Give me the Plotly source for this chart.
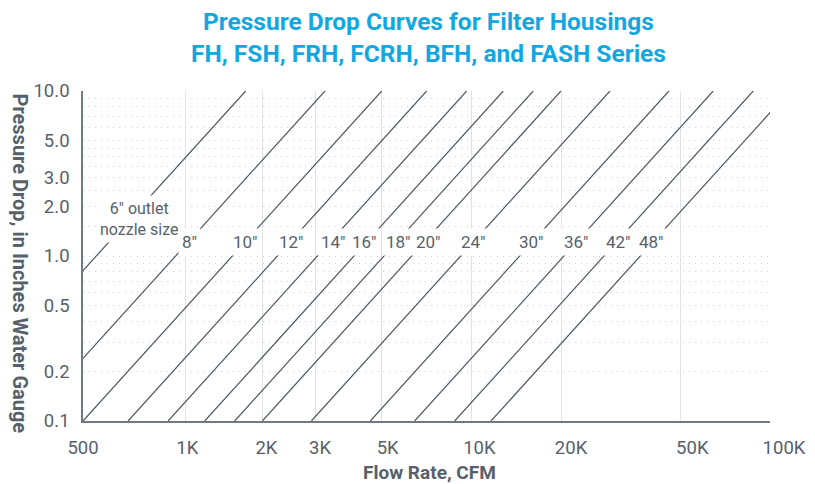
import math
import plotly.graph_objects as go

# ---- data ----
NOZZLE_SIZES = ['6"', '8"', '10"', '12"', '14"', '16"', '18"', '20"', '24"', '30"', '36"', '42"', '48"']
# flow (CFM) where each curve crosses 0.1 and 10.0 in. w.g.
FLOW_AT_0_1 = [175, 323, 500, 708, 964, 1278, 1611, 1994, 2910, 4586, 6453, 8786, 11630]
FLOW_AT_10 = [1753, 3232, 5004, 7080, 9638, 12782, 16106, 19940, 29100, 45860, 64530, 87860, 116300]
DP_LOW = 0.1
DP_HIGH = 10.0

# where the size labels sit along each curve (flow, pressure drop)
LABEL_TEXT = ['6" outlet<br>nozzle size', '8"', '10"', '12"', '14"', '16"', '18"', '20"',
              '24"', '30"', '36"', '42"', '48"']
LABEL_FLOW = [776, 1141, 1755, 2487, 3446, 4377, 5688, 7207, 10140, 15910, 22560, 31030, 40240]
LABEL_DP = [1.67, 1.21, 1.21, 1.21, 1.21, 1.21, 1.21, 1.21, 1.21, 1.21, 1.21, 1.21, 1.21]

# axes
X_GRID_VALS = [1100, 2000, 3000, 5000, 10000, 20000, 50000]
X_TICK_VALS = [500, 1100, 2000, 3000, 5000, 10000, 20000, 50000, 100000]
X_TICK_TEXT = ['500', '1K', '2K', '3K', '5K', '10K', '20K', '50K', '100K']
Y_TICK_VALS = [0.1, 0.2, 0.5, 1, 2, 3, 5, 10]
Y_TICK_TEXT = ['0.1', '0.2', '0.5', '1.0', '2.0', '3.0', '5.0', '10.0']
Y_GRID_VALS = [0.2, 0.3, 0.4, 0.5, 0.6, 0.7, 0.8, 0.9, 1, 1.5, 2, 2.5, 3, 3.5, 4, 4.5, 5, 6, 7, 8, 9]

TITLE = "Pressure Drop Curves for Filter Housings<br>FH, FSH, FRH, FCRH, BFH, and FASH Series"
X_TITLE = "Flow Rate, CFM"
Y_TITLE = "Pressure Drop, in Inches Water Gauge"

# ---- styling ----
FONT = "Roboto"
TEXT_COLOR = "#56616b"
LINE_COLOR = "#4d5863"
AXIS_COLOR = "#6f7a84"
BLUE = "#12a7e2"

W, H = 807, 476
ML, MR, MT, MB = 75, 20, 83, 63
PLOT_W = W - ML - MR
PLOT_H = H - MT - MB


def px_x(px):
    return (px - ML) / PLOT_W


def px_y(py):
    return (H - MB - py) / PLOT_H


fig = go.Figure()

for name, q0, q1 in zip(NOZZLE_SIZES, FLOW_AT_0_1, FLOW_AT_10):
    fig.add_trace(go.Scatter(
        x=[q0, q1], y=[DP_LOW, DP_HIGH], mode="lines", name=name,
        line=dict(color=LINE_COLOR, width=1.2), showlegend=False,
        hovertemplate=name + "<br>%{x:,.0f} CFM, %{y:.2f} in. w.g.<extra></extra>",
    ))

# empty trace so that the tick-label axis is drawn
fig.add_trace(go.Scatter(x=[], y=[], xaxis="x2", yaxis="y2", showlegend=False, hoverinfo="skip"))

for txt, q, dp in zip(LABEL_TEXT, LABEL_FLOW, LABEL_DP):
    fig.add_annotation(
        x=math.log10(q), y=math.log10(dp), xref="x", yref="y", text=txt,
        showarrow=False, bgcolor="white", borderpad=3,
        font=dict(family=FONT, size=16 if "<br>" in txt else 17, color=TEXT_COLOR),
        align="center",
    )

fig.add_annotation(
    x=px_x(420), y=px_y(29), xref="paper", yref="paper",
    text="<b>" + TITLE + "</b>", showarrow=False, xanchor="center", yanchor="middle",
    font=dict(family=FONT, size=24.5, color=BLUE), align="center",
)
fig.add_annotation(
    x=px_x(421), y=px_y(465), xref="paper", yref="paper",
    text="<b>" + X_TITLE + "</b>", showarrow=False, xanchor="center", yanchor="middle",
    font=dict(family=FONT, size=19, color=TEXT_COLOR),
)
fig.add_annotation(
    x=px_x(12), y=px_y(255.5), xref="paper", yref="paper",
    text="<b>" + Y_TITLE + "</b>", showarrow=False, xanchor="center", yanchor="middle",
    textangle=90, font=dict(family=FONT, size=20, color=TEXT_COLOR),
)

fig.update_layout(
    width=W, height=H, autosize=False, margin=dict(l=ML, r=MR, t=MT, b=MB),
    paper_bgcolor="white", plot_bgcolor="rgba(0,0,0,0)",
    font=dict(family=FONT, color=TEXT_COLOR),
    xaxis=dict(
        type="log", range=[math.log10(500), 5], domain=[0, 687 / PLOT_W], automargin=False,
        tickmode="array", tickvals=X_GRID_VALS, showticklabels=False, ticks="",
        showgrid=True, gridcolor="#dde2e5", gridwidth=1,
        showline=True, linecolor=AXIS_COLOR, linewidth=1.5, zeroline=False,
    ),
    xaxis2=dict(
        type="log", range=[math.log10(500), 5], domain=[0, 701 / PLOT_W], anchor="y2",
        automargin=False, ticklabeloverflow="allow",
        tickmode="array", tickvals=X_TICK_VALS, ticktext=X_TICK_TEXT,
        ticks="outside", ticklen=10, tickcolor="rgba(0,0,0,0)",
        showgrid=False, showline=False, zeroline=False,
        tickfont=dict(family=FONT, size=18.5, color=TEXT_COLOR),
    ),
    yaxis=dict(
        type="log", range=[-1, 1], automargin=False,
        tickmode="array", tickvals=Y_TICK_VALS, ticktext=Y_TICK_TEXT,
        ticks="outside", ticklen=8, tickcolor="rgba(0,0,0,0)",
        showgrid=False, showline=True, linecolor=AXIS_COLOR, linewidth=1.5, zeroline=False,
        tickfont=dict(family=FONT, size=18.5, color=TEXT_COLOR),
        minor=dict(tickmode="array", tickvals=Y_GRID_VALS, showgrid=True,
                   gridcolor="#cdd3d7", griddash="1px,5px", gridwidth=1, ticks=""),
    ),
    yaxis2=dict(
        type="log", range=[-1, 1], domain=[0, 1], anchor="x2", automargin=False,
        showgrid=False, showline=False, showticklabels=False, zeroline=False, ticks="",
    ),
)

fig.write_html("out.html")
